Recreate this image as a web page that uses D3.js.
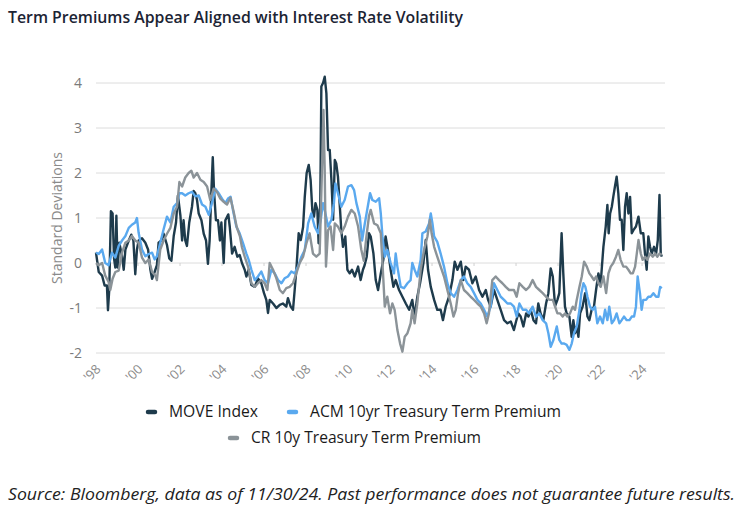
<!DOCTYPE html>
<html><head><meta charset="utf-8">
<script src="https://cdn.jsdelivr.net/npm/d3@7"></script>
<style>
html,body{margin:0;padding:0;background:#fff;}
svg{display:block;font-family:"Open Sans",sans-serif;}
</style></head>
<body><svg id="chart" width="745" height="512"></svg>
<script>
const title = "Term Premiums Appear Aligned with Interest Rate Volatility";
const source = "Source: Bloomberg, data as of 11/30/24. Past performance does not guarantee future results.";
const yTicks = [-2,-1,0,1,2,3,4];
const xTickYears = [1998,2000,2002,2004,2006,2008,2010,2012,2014,2016,2018,2020,2022,2024];
const xTickLabels = ["'98","'00","'02","'04","'06","'08","'10","'12","'14","'16","'18","'20","'22","'24"];
const seriesNames = ["MOVE Index","ACM 10yr Treasury Term Premium","CR 10y Treasury Term Premium"];

const moveData = [[1998.00,0.23],[1998.13,-0.2],[1998.29,-0.28],[1998.41,-0.5],[1998.52,-0.5],[1998.57,-1.05],[1998.63,-0.6],[1998.71,1.15],[1998.79,1.1],[1998.86,0.1],[1998.92,-0.1],[1998.97,1.05],[1999.03,-0.1],[1999.11,0.45],[1999.24,0.15],[1999.32,-0.15],[1999.40,0.3],[1999.56,0.5],[1999.68,0.63],[1999.78,0.5],[1999.87,-0.25],[1999.95,0.3],[2000.03,0.5],[2000.19,0.55],[2000.35,0.45],[2000.48,0.3],[2000.59,-0.15],[2000.67,-0.35],[2000.79,-0.2],[2000.90,-0.05],[2000.98,0.45],[2001.11,0.5],[2001.22,0.65],[2001.38,0.4],[2001.49,0.1],[2001.59,0.05],[2001.70,0.6],[2001.81,0.9],[2001.90,1.5],[2002.02,1.05],[2002.10,0.5],[2002.17,0.95],[2002.25,0.5],[2002.33,0.38],[2002.44,0.9],[2002.57,1.25],[2002.65,1.6],[2002.73,1.55],[2002.81,1.4],[2002.89,1.1],[2003.02,0.95],[2003.13,0.65],[2003.24,0.5],[2003.33,-0.02],[2003.41,0.5],[2003.49,1.55],[2003.56,2.35],[2003.62,1.6],[2003.71,0.95],[2003.81,0.95],[2003.90,0.5],[2003.97,0.9],[2004.08,0.0],[2004.16,0.95],[2004.30,1.08],[2004.37,0.8],[2004.48,0.21],[2004.60,0.36],[2004.73,0.14],[2004.84,0.18],[2004.95,0],[2005.08,-0.15],[2005.16,-0.3],[2005.27,-0.15],[2005.40,-0.49],[2005.56,-0.53],[2005.71,-0.34],[2005.87,-0.45],[2006.00,-0.67],[2006.11,-0.82],[2006.19,-1.11],[2006.27,-0.82],[2006.43,-0.9],[2006.59,-1.0],[2006.75,-0.93],[2006.90,-0.9],[2007.06,-0.97],[2007.14,-0.78],[2007.27,-0.97],[2007.38,-1.04],[2007.46,-0.6],[2007.54,-0.15],[2007.65,0.66],[2007.75,0.51],[2007.86,0.8],[2007.94,1.47],[2008.03,2.0],[2008.13,2.18],[2008.22,1.84],[2008.30,1.18],[2008.38,1.03],[2008.45,1.33],[2008.54,1.18],[2008.60,0.44],[2008.68,1.33],[2008.73,3.92],[2008.81,4.0],[2008.89,4.14],[2008.97,3.77],[2009.05,2.51],[2009.13,2.51],[2009.21,1.84],[2009.29,0.96],[2009.37,2.29],[2009.44,2.21],[2009.52,1.92],[2009.60,1.33],[2009.68,0.73],[2009.76,0.36],[2009.87,0.59],[2009.97,-0.15],[2010.08,-0.23],[2010.19,-0.15],[2010.32,-0.3],[2010.48,-0.08],[2010.60,-0.38],[2010.71,-0.15],[2010.79,-0.05],[2010.89,0.14],[2011.00,0.66],[2011.08,0.59],[2011.21,0.21],[2011.32,-0.38],[2011.43,-0.6],[2011.56,-0.23],[2011.68,0.07],[2011.79,0.59],[2011.90,0.29],[2012.03,-0.15],[2012.16,-0.53],[2012.27,-0.38],[2012.43,-0.6],[2012.59,-0.75],[2012.75,-0.9],[2012.91,-1.04],[2013.06,-0.82],[2013.17,-1.19],[2013.30,-0.75],[2013.43,-0.45],[2013.59,0],[2013.70,0.51],[2013.81,-0.15],[2013.94,-0.53],[2014.10,-0.82],[2014.25,-1.04],[2014.41,-1.04],[2014.52,-1.27],[2014.65,-0.97],[2014.81,-0.75],[2014.97,-0.38],[2015.08,0.03],[2015.21,-0.15],[2015.37,0.03],[2015.49,-0.38],[2015.60,-0.08],[2015.76,-0.15],[2015.92,-0.45],[2016.08,-0.3],[2016.24,-0.6],[2016.40,-0.75],[2016.56,-0.6],[2016.67,-0.82],[2016.79,-0.97],[2016.95,-0.6],[2017.11,-0.82],[2017.27,-1.04],[2017.43,-1.27],[2017.59,-1.34],[2017.75,-1.3],[2017.90,-1.49],[2018.00,-1.3],[2018.11,-1.12],[2018.22,-1.19],[2018.35,-1.41],[2018.48,-1.12],[2018.59,-1.19],[2018.70,-1.04],[2018.83,-1.27],[2018.95,-1.34],[2019.06,-0.9],[2019.17,-1.12],[2019.30,-1.27],[2019.43,-0.9],[2019.54,-0.67],[2019.65,-0.12],[2019.75,-0.3],[2019.86,-0.96],[2019.97,-0.82],[2020.06,-0.67],[2020.17,0.66],[2020.25,-0.23],[2020.33,-0.97],[2020.41,-1.12],[2020.54,-1.19],[2020.65,-1.64],[2020.73,-1.27],[2020.81,-1.56],[2020.89,-1.41],[2020.97,-1.64],[2021.05,-1.12],[2021.17,-0.97],[2021.29,-0.67],[2021.40,-1.19],[2021.49,-1.27],[2021.60,-1.04],[2021.71,-0.97],[2021.81,-0.6],[2021.92,-0.23],[2022.03,-0.45],[2022.16,0.36],[2022.27,0.81],[2022.35,1.29],[2022.41,0.66],[2022.48,1.1],[2022.56,1.25],[2022.63,1.47],[2022.71,1.7],[2022.79,1.92],[2022.87,1.55],[2022.95,0.96],[2023.03,0.96],[2023.11,0.29],[2023.19,1.25],[2023.27,1.55],[2023.35,1.1],[2023.43,1.47],[2023.51,0.66],[2023.59,0.73],[2023.71,0.81],[2023.83,1.03],[2023.94,0.66],[2024.06,0.66],[2024.14,0.21],[2024.22,-0.15],[2024.30,0.59],[2024.38,0.36],[2024.46,0.21],[2024.57,0.36],[2024.67,0.21],[2024.75,0.51],[2024.83,1.51],[2024.89,0.21],[2024.94,0.14]];

const acmData = [[1998.00,0.23],[1998.13,0.2],[1998.29,0.3],[1998.44,0],[1998.60,-0.05],[1998.76,0.23],[1998.92,0.12],[1999.08,0.38],[1999.24,0.5],[1999.40,0.6],[1999.56,0.78],[1999.71,0.85],[1999.87,0.9],[1999.95,1.0],[2000.03,0.67],[2000.19,0.3],[2000.35,0.15],[2000.51,0.2],[2000.67,0.23],[2000.79,0.08],[2000.90,0.15],[2001.06,0.45],[2001.22,0.75],[2001.38,1.03],[2001.54,0.9],[2001.70,1.25],[2001.86,1.33],[2001.97,1.55],[2002.10,1.55],[2002.25,1.5],[2002.41,1.55],[2002.57,1.58],[2002.73,1.48],[2002.89,1.5],[2003.05,1.3],[2003.21,1.25],[2003.37,1.07],[2003.52,1.33],[2003.68,1.65],[2003.84,1.55],[2004.00,1.43],[2004.16,1.33],[2004.30,1.44],[2004.41,1.47],[2004.52,1.18],[2004.68,0.81],[2004.84,0.66],[2005.00,0.44],[2005.16,0.21],[2005.27,0.07],[2005.40,-0.15],[2005.56,-0.38],[2005.71,-0.3],[2005.87,-0.19],[2006.03,-0.38],[2006.19,-0.45],[2006.35,-0.15],[2006.51,-0.23],[2006.67,-0.38],[2006.83,-0.45],[2006.98,-0.34],[2007.14,-0.3],[2007.30,-0.19],[2007.46,-0.23],[2007.62,-0.08],[2007.78,0.14],[2007.94,0.29],[2008.10,0.88],[2008.25,1.1],[2008.41,0.81],[2008.57,0.66],[2008.70,0.96],[2008.81,1.33],[2008.89,1.18],[2009.05,0.81],[2009.21,0.96],[2009.33,1.33],[2009.40,1.77],[2009.52,1.55],[2009.68,1.25],[2009.84,1.4],[2010.00,1.7],[2010.16,1.73],[2010.29,1.62],[2010.40,1.33],[2010.56,1.03],[2010.67,0.5],[2010.79,0.85],[2010.92,1.2],[2011.05,1.55],[2011.16,1.4],[2011.32,1.36],[2011.48,1.44],[2011.56,1.1],[2011.64,0.59],[2011.75,0.14],[2011.87,0.29],[2012.03,0],[2012.19,-0.23],[2012.27,0.21],[2012.35,-0.08],[2012.51,-0.53],[2012.67,-0.56],[2012.83,-0.45],[2012.98,-0.38],[2013.06,0],[2013.17,-0.15],[2013.30,-0.3],[2013.46,0.07],[2013.54,0.66],[2013.70,0.7],[2013.86,0.88],[2013.94,1.1],[2014.02,0.88],[2014.10,0.59],[2014.25,0.47],[2014.41,0.21],[2014.57,-0.08],[2014.73,-0.45],[2014.89,-0.67],[2015.05,-0.75],[2015.21,-0.6],[2015.37,-0.38],[2015.52,-0.3],[2015.68,-0.45],[2015.84,-0.53],[2016.00,-0.67],[2016.16,-0.82],[2016.32,-0.9],[2016.48,-1.04],[2016.63,-1.19],[2016.79,-0.97],[2016.95,-0.45],[2017.11,-0.6],[2017.27,-0.75],[2017.43,-0.82],[2017.59,-0.9],[2017.75,-0.9],[2017.90,-0.97],[2018.03,-1.19],[2018.16,-0.9],[2018.32,-1.04],[2018.48,-1.04],[2018.63,-1.12],[2018.79,-0.97],[2018.95,-1.19],[2019.11,-1.12],[2019.27,-1.27],[2019.43,-1.34],[2019.54,-1.56],[2019.65,-1.86],[2019.78,-1.71],[2019.94,-1.41],[2020.06,-1.71],[2020.17,-1.79],[2020.29,-1.79],[2020.41,-1.82],[2020.54,-1.93],[2020.65,-1.79],[2020.76,-1.56],[2020.89,-1.41],[2021.02,-1.04],[2021.11,-0.67],[2021.21,-0.45],[2021.30,-0.53],[2021.40,-0.75],[2021.52,-0.97],[2021.65,-1.04],[2021.76,-0.97],[2021.87,-1.34],[2022.00,-1.19],[2022.13,-1.34],[2022.24,-1.04],[2022.35,-1.27],[2022.44,-0.97],[2022.56,-1.34],[2022.67,-1.27],[2022.79,-1.12],[2022.92,-1.34],[2023.03,-1.27],[2023.14,-1.19],[2023.27,-1.27],[2023.40,-1.27],[2023.51,-1.19],[2023.62,-1.19],[2023.71,-0.97],[2023.79,-0.3],[2023.90,-0.67],[2023.98,-1.04],[2024.06,-0.82],[2024.19,-0.82],[2024.30,-0.75],[2024.41,-0.75],[2024.54,-0.67],[2024.67,-0.75],[2024.78,-0.75],[2024.86,-0.53],[2024.94,-0.56]];

const crData = [[1998.00,0],[1998.13,-0.05],[1998.29,0],[1998.44,-0.28],[1998.60,-0.42],[1998.68,-0.6],[1998.79,-0.35],[1998.92,-0.2],[1999.08,-0.17],[1999.24,0.23],[1999.40,0.45],[1999.56,0.5],[1999.71,0.6],[1999.87,0.5],[2000.03,0.45],[2000.19,0.12],[2000.35,0],[2000.51,0.08],[2000.67,-0.2],[2000.83,-0.28],[2000.90,-0.38],[2001.06,0.3],[2001.22,0.5],[2001.38,0.65],[2001.54,0.78],[2001.70,1.1],[2001.86,1.25],[2001.97,1.8],[2002.10,1.7],[2002.25,1.9],[2002.41,2.0],[2002.54,2.05],[2002.65,1.9],[2002.81,2.0],[2002.97,1.85],[2003.13,1.8],[2003.29,1.7],[2003.44,1.4],[2003.60,1.65],[2003.76,1.58],[2003.92,1.43],[2004.08,1.36],[2004.24,1.3],[2004.40,1.45],[2004.55,1.15],[2004.70,0.8],[2004.85,0.6],[2004.95,0.35],[2005.08,0.14],[2005.24,-0.08],[2005.40,-0.45],[2005.56,-0.53],[2005.71,-0.45],[2005.87,-0.38],[2006.03,-0.45],[2006.16,-0.6],[2006.27,0],[2006.43,-0.15],[2006.59,-0.34],[2006.75,-0.6],[2006.90,-0.67],[2007.06,-0.56],[2007.22,-0.53],[2007.38,-0.45],[2007.54,-0.23],[2007.70,0],[2007.86,0.14],[2008.02,0.44],[2008.17,0.66],[2008.33,0.21],[2008.49,0.14],[2008.65,0.21],[2008.76,2.07],[2008.83,3.4],[2008.89,2.07],[2008.95,-0.08],[2009.05,0.73],[2009.17,0.81],[2009.29,0.29],[2009.37,0.88],[2009.52,0.81],[2009.68,0.66],[2009.84,0.81],[2010.00,1.03],[2010.16,1.18],[2010.32,1.1],[2010.48,0.81],[2010.63,0.3],[2010.75,0.05],[2010.88,0.6],[2011.00,1.05],[2011.08,1.18],[2011.24,0.88],[2011.40,0.84],[2011.56,0.66],[2011.64,0],[2011.75,-0.97],[2011.87,-0.75],[2012.00,-1.12],[2012.11,-0.9],[2012.22,-1.04],[2012.35,-1.49],[2012.48,-1.79],[2012.59,-1.97],[2012.70,-1.64],[2012.83,-1.56],[2012.98,-1.34],[2013.06,-1.04],[2013.17,-1.34],[2013.30,-0.9],[2013.46,-0.15],[2013.62,0.29],[2013.78,0.59],[2013.90,0.96],[2013.98,0.66],[2014.10,0.36],[2014.25,0.14],[2014.41,-0.08],[2014.57,-0.3],[2014.73,-0.6],[2014.89,-0.9],[2015.02,-1.19],[2015.13,-1.04],[2015.24,-0.67],[2015.37,-0.38],[2015.52,-0.6],[2015.68,-0.67],[2015.84,-0.75],[2016.00,-0.82],[2016.16,-0.9],[2016.32,-0.97],[2016.48,-1.12],[2016.60,-1.34],[2016.71,-1.12],[2016.87,-0.38],[2017.03,-0.3],[2017.19,-0.38],[2017.35,-0.45],[2017.51,-0.53],[2017.67,-0.6],[2017.90,-0.6],[2018.03,-0.75],[2018.16,-0.45],[2018.32,-0.53],[2018.48,-0.6],[2018.63,-0.53],[2018.79,-0.38],[2018.95,-0.53],[2019.11,-0.6],[2019.27,-0.67],[2019.43,-0.75],[2019.59,-0.82],[2019.75,-0.82],[2019.86,-0.97],[2019.97,-1.12],[2020.10,-1.12],[2020.22,-1.19],[2020.33,-1.12],[2020.44,-1.19],[2020.57,-1.12],[2020.70,-0.97],[2020.81,-1.04],[2020.89,-0.82],[2021.02,-0.53],[2021.13,-0.3],[2021.24,0.03],[2021.37,-0.08],[2021.49,-0.23],[2021.60,-0.3],[2021.71,-0.38],[2021.81,-0.3],[2021.92,-0.45],[2022.03,-0.53],[2022.16,-0.3],[2022.29,-0.67],[2022.40,-0.23],[2022.51,-0.08],[2022.63,0],[2022.76,0.14],[2022.87,0.29],[2022.98,0.07],[2023.11,-0.08],[2023.24,-0.08],[2023.35,-0.15],[2023.46,-0.23],[2023.56,-0.23],[2023.67,-0.08],[2023.75,0.21],[2023.83,0.51],[2023.94,0.21],[2024.03,0.07],[2024.14,0.14],[2024.25,0.07],[2024.38,0.21],[2024.51,0.14],[2024.62,0.21],[2024.73,0.14],[2024.83,0.21],[2024.94,0.18]];

const colors = ["#1e3b4c","#5aa9ef","#8b9398"];

const svg = d3.select("#chart");
const x = d3.scaleLinear().domain([1998, 2024.95]).range([96, 662]);
const y = d3.scaleLinear().domain([-2, 4]).range([353, 83]);

// title
svg.append("text").attr("x", 8).attr("y", 23)
  .attr("font-size", 16).attr("font-weight", 600).attr("fill", "#1c2434")
  .attr("textLength", 455).attr("lengthAdjust", "spacingAndGlyphs")
  .text(title);

// gridlines
svg.append("g").selectAll("line").data(yTicks).join("line")
  .attr("x1", 96).attr("x2", 665)
  .attr("y1", d => y(d)).attr("y2", d => y(d))
  .attr("stroke", "#dcdcdc").attr("stroke-width", 1);

// small ticks on zero line
svg.append("g").selectAll("line").data(xTickYears.filter((d,i)=>i>0)).join("line")
  .attr("x1", d => x(d)).attr("x2", d => x(d))
  .attr("y1", y(0)).attr("y2", y(0)+3)
  .attr("stroke", "#d0d0d0").attr("stroke-width", 1);

// y tick labels
svg.append("g").selectAll("text").data(yTicks).join("text")
  .attr("x", 82).attr("y", d => y(d)).attr("dy", "0.35em")
  .attr("text-anchor", "end").attr("font-size", 14).attr("fill", "#7a7a7a")
  .text(d => d);

// y axis title
svg.append("text").attr("transform", `translate(57,${(y(-2)+y(4))/2}) rotate(-90)`)
  .attr("text-anchor", "middle").attr("dy", "0.35em")
  .attr("font-size", 14).attr("fill", "#8a8a8a").text("Standard Deviations");

// x tick labels
svg.append("g").selectAll("text").data(xTickYears).join("text")
  .attr("transform", d => `translate(${x(d)-4},373) rotate(-45)`)
  .attr("text-anchor", "middle").attr("dy", "0.35em")
  .attr("font-size", 13).attr("fill", "#8a8a8a")
  .text((d,i) => xTickLabels[i]);

// lines
const line = d3.line().x(d => x(d[0])).y(d => y(d[1]));
[moveData, acmData, crData].forEach((data, i) => {
  svg.append("path").datum(data).attr("d", line)
    .attr("fill", "none").attr("stroke", colors[i])
    .attr("stroke-width", 2.4).attr("stroke-linejoin", "round");
});

// legend
const legendPos = [[146,412],[287,412],[228,438]];
const legendWidths = [89, 251, 230];
seriesNames.forEach((name, i) => {
  const [lx, ly] = legendPos[i];
  svg.append("line").attr("x1", lx+2).attr("x2", lx+9).attr("y1", ly).attr("y2", ly)
    .attr("stroke", colors[i]).attr("stroke-width", 4.5).attr("stroke-linecap", "round");
  svg.append("text").attr("x", lx+23).attr("y", ly).attr("dy", "0.35em")
    .attr("font-size", 15.5).attr("fill", "#1a1a1a")
    .attr("textLength", legendWidths[i]).attr("lengthAdjust", "spacingAndGlyphs")
    .text(name);
});

// source
svg.append("text").attr("x", 8).attr("y", 500)
  .attr("font-size", 16).attr("font-style", "italic").attr("fill", "#222")
  .attr("textLength", 727).attr("lengthAdjust", "spacingAndGlyphs")
  .text(source);
</script></body></html>
